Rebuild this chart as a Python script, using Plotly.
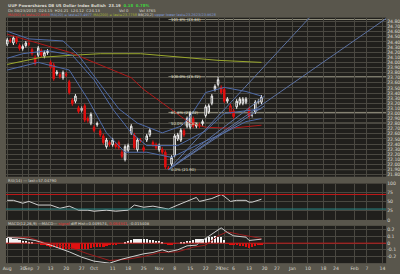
import numpy as np
import pandas as pd
import plotly.graph_objects as go
from plotly.subplots import make_subplots

# ---------------- data ----------------
holidays = ["2010-09-06", "2010-11-25", "2010-12-24", "2011-01-17"]
all_days = pd.bdate_range("2010-08-23", "2011-02-25")
trade_days = [d for d in all_days if d.strftime("%Y-%m-%d") not in holidays]
day_index = {d.strftime("%Y-%m-%d"): i for i, d in enumerate(trade_days)}

opens = [24.36, 24.44, 24.38, 24.47, 24.33, 24.27, 24.33, 24.37, 24.25, 24.10,
         24.14, 24.23, 24.12, 24.19, 24.00, 23.95, 23.78, 23.76, 23.70, 23.77,
         23.62, 23.26, 23.24, 23.11, 23.10, 23.15, 22.90, 22.81, 22.73, 22.78,
         22.66, 22.56, 22.35, 22.43, 22.39, 22.39, 22.43, 22.24, 22.10, 22.28,
         22.62, 22.58, 22.29, 22.48, 22.33, 22.48, 22.58, 22.43, 22.39, 22.29,
         22.30, 22.24, 21.93, 22.01, 22.18, 22.50, 22.48, 22.66, 22.75, 22.73,
         22.90, 22.75, 22.78, 22.80, 22.96, 23.03, 23.20, 23.47, 23.57, 23.51,
         23.47, 23.24, 23.03, 23.05, 23.13, 23.20, 23.20, 23.22, 23.09, 22.96,
         23.03, 23.24, 23.22]
closes = [24.44, 24.42, 24.48, 24.40, 24.27, 24.31, 24.38, 24.36, 24.17, 23.98,
          24.28, 24.14, 24.19, 24.22, 23.91, 23.68, 23.81, 23.72, 23.80, 23.75,
          23.41, 23.19, 23.34, 23.04, 23.06, 22.87, 22.86, 22.98, 22.67, 22.80,
          22.58, 22.43, 22.48, 22.39, 22.48, 22.35, 22.33, 22.16, 22.35, 22.37,
          22.75, 22.33, 22.48, 22.47, 22.28, 22.56, 22.67, 22.39, 22.33, 22.37,
          22.24, 21.95, 21.92, 22.14, 22.56, 22.58, 22.67, 22.58, 22.90, 23.00,
          22.75, 22.78, 22.75, 22.84, 23.13, 23.15, 23.34, 23.53, 23.66, 23.41,
          23.24, 23.28, 23.15, 22.94, 23.24, 23.28, 23.28, 23.28, 22.94, 22.96,
          23.22, 23.22, 23.32]
wick = 0.04
highs = [max(o, c) + wick for o, c in zip(opens, closes)]
lows = [min(o, c) - wick for o, c in zip(opens, closes)]
highs[68] = 23.72
lows[52] = 21.90

# moving averages / bands (vertices: day index, price)
ma50_x = [0, 20, 40, 44, 54, 59, 64, 72, 82]
ma50_y = [24.55, 24.20, 23.70, 23.47, 23.03, 22.81, 22.73, 22.71, 22.77]
ma200_x = [0, 11, 21, 30, 43, 55, 68, 82]
ma200_y = [23.96, 24.10, 24.14, 24.17, 24.17, 24.11, 24.04, 24.00]
bbu_x = [0, 7, 18, 23, 30, 36, 42, 50, 56, 59, 64, 70, 77, 82]
bbu_y = [24.61, 24.46, 24.42, 24.14, 23.57, 23.09, 22.81, 22.62, 22.75, 22.94, 23.41, 23.51, 23.43, 23.34]
ma20_x = [0, 5, 13, 21, 28, 34, 40, 45, 55, 64, 70, 82]
ma20_y = [24.08, 24.17, 24.23, 24.14, 23.66, 23.09, 22.62, 22.37, 22.37, 22.66, 23.00, 23.09]
bbl_x = [0, 10, 20, 26, 32, 38, 45, 53, 64, 70, 77, 82]
bbl_y = [23.85, 24.00, 23.85, 23.28, 22.62, 22.24, 22.24, 22.14, 22.46, 22.62, 22.84, 22.90]

# fan lines from the November low (day index, price) -> end points
fan_start = (52, 21.90)
fan_end_x = [97.7, 122.2, 83.0, 83.0]
fan_end_y = [24.89, 24.86, 23.34, 23.15]

# Fibonacci levels
fib_pct = ["161.8%", "100.0%", "61.8%", "50.0%", "0.0%"]
fib_val = [24.84, 23.72, 23.02, 22.81, 21.90]

# RSI(14)
rsi_x = [0, 2, 5, 7, 10, 14, 17, 20, 23, 26, 28, 32, 35, 39, 41, 44, 47, 50, 52, 55,
         58, 61, 62, 64, 66, 69, 70, 72, 74, 77, 78, 79, 81, 82]
rsi_y = [54, 54, 46, 51, 41, 41, 32, 38, 27, 27, 24, 27, 24, 27, 41, 35, 38, 32, 30, 41,
         51, 62, 51, 54, 59, 70, 65, 51, 54, 54, 49, 49, 54, 57]

# MACD
macd_x = [0, 5, 9, 14, 20, 24, 28, 33, 37, 41, 44, 47, 50, 52, 55, 58, 61, 62, 65, 68,
          69, 71, 73, 77, 78, 82]
macd_y = [0.086, 0.07, 0.04, -0.03, -0.13, -0.21, -0.27, -0.30, -0.24, -0.19, -0.16, -0.14,
          -0.10, -0.13, -0.10, -0.04, -0.03, 0.01, 0.11, 0.20, 0.23, 0.16, 0.11, 0.09, 0.04, 0.06]
sig_x = [0, 7, 12, 20, 26, 33, 39, 44, 49, 55, 60, 64, 68, 71, 75, 80, 82]
sig_y = [0.086, 0.086, 0.01, -0.06, -0.16, -0.26, -0.24, -0.20, -0.14, -0.13, -0.06, -0.03,
         0.11, 0.17, 0.13, 0.09, 0.07]
hist = [0.08, 0.08, 0.07, 0.06, 0.05, 0.04, 0.03, 0.02, 0.01, 0.0,
        -0.01, -0.02, -0.03, -0.04, -0.05, -0.06, -0.07, -0.07, -0.08, -0.08,
        -0.09, -0.09, -0.09, -0.08, -0.09, -0.08, -0.08, -0.07, -0.06, -0.06,
        -0.05, -0.05, -0.04, -0.03, -0.03, -0.02, -0.01, 0.0,
        0.02, 0.03, 0.05, 0.06, 0.07, 0.07, 0.06, 0.06, 0.05, 0.05, 0.04, 0.03, 0.02,
        -0.01, -0.02, -0.02, -0.01, 0.0,
        0.01, 0.02, 0.03, 0.04, 0.05, 0.06, 0.06, 0.07, 0.08, 0.09, 0.10, 0.11, 0.10, 0.09, 0.05,
        -0.01, -0.02, -0.03, -0.03, -0.04, -0.04, -0.05, -0.07, -0.05, -0.04, -0.03, -0.02]

tick_dates = ["2010-08-23", "2010-08-30", "2010-09-01", "2010-09-07", "2010-09-13", "2010-09-20",
              "2010-09-27", "2010-10-01", "2010-10-11", "2010-10-18", "2010-10-25", "2010-11-01",
              "2010-11-08", "2010-11-15", "2010-11-22", "2010-11-29", "2010-12-01", "2010-12-06",
              "2010-12-13", "2010-12-20", "2010-12-27", "2011-01-03", "2011-01-10", "2011-01-18",
              "2011-01-24", "2011-02-01", "2011-02-07", "2011-02-14"]
tick_text = ["Aug", "30", "Sep", "7", "13", "20", "27", "Oct", "11", "18", "25", "Nov", "8", "15",
             "22", "29", "Dec", "6", "13", "20", "27", "Jan", "10", "18", "24", "Feb", "7", "14"]
price_ticks = [round(21.8 + 0.1 * k, 2) for k in range(31)]

# ---------------- style ----------------
W, H = 400, 274
PAPER = "#59564c"
PLOT = "#201f1c"
GRID = "#4a4841"
TXT = "#d9d8cf"
FIBC = "#8f8d7c"
BLUE = "#4f6ba8"
RED = "#e01010"
FONT = "DejaVu Sans"

def py(p):  # pixel row -> paper fraction
    return 1 - p / H

fig = make_subplots(rows=3, cols=1, shared_xaxes=True)
xr = [-0.4, 122.2]
tickvals = [day_index[d] for d in tick_dates]

# candles: colour by change vs previous close, hollow when close > open
n = len(closes)
prev = [closes[0] - 0.01] + closes[:-1]
up_idx = [i for i in range(n) if closes[i] >= prev[i]]
dn_idx = [i for i in range(n) if closes[i] < prev[i]]

def cs(idx, inc_line, inc_fill, dec_line, dec_fill):
    return go.Candlestick(
        x=idx, open=[opens[i] for i in idx], high=[highs[i] for i in idx],
        low=[lows[i] for i in idx], close=[closes[i] for i in idx],
        increasing=dict(line=dict(color=inc_line, width=1), fillcolor=inc_fill),
        decreasing=dict(line=dict(color=dec_line, width=1), fillcolor=dec_fill),
        whiskerwidth=0, showlegend=False, hoverinfo="skip")

fig.add_trace(go.Scatter(x=ma200_x, y=ma200_y, mode="lines", line=dict(color="#9aa82c", width=1),
                         showlegend=False), row=1, col=1)
fig.add_trace(go.Scatter(x=ma50_x, y=ma50_y, mode="lines", line=dict(color="#b01818", width=1),
                         showlegend=False), row=1, col=1)
for xs, ys in [(bbu_x, bbu_y), (ma20_x, ma20_y), (bbl_x, bbl_y)]:
    fig.add_trace(go.Scatter(x=xs, y=ys, mode="lines", line=dict(color=BLUE, width=1),
                             showlegend=False), row=1, col=1)
for ex, ey in zip(fan_end_x, fan_end_y):
    fig.add_trace(go.Scatter(x=[fan_start[0], ex], y=[fan_start[1], ey], mode="lines",
                             line=dict(color="#5d73a3", width=1), showlegend=False), row=1, col=1)
fig.add_trace(cs(up_idx, "#f0f0f0", PLOT, "#bdbdbd", "#bdbdbd"), row=1, col=1)
fig.add_trace(cs(dn_idx, RED, PLOT, RED, RED), row=1, col=1)

# RSI
fig.add_trace(go.Scatter(x=rsi_x, y=rsi_y, mode="lines", line=dict(color="#d0d0d0", width=1),
                         showlegend=False), row=2, col=1)
# MACD
fig.add_trace(go.Bar(x=list(range(len(hist))), y=hist, width=0.75,
                     marker=dict(color=["#f2f2f2" if v >= 0 else RED for v in hist], line_width=0),
                     showlegend=False), row=3, col=1)
fig.add_trace(go.Scatter(x=sig_x, y=sig_y, mode="lines", line=dict(color="#9a1c1c", width=1),
                         showlegend=False), row=3, col=1)
fig.add_trace(go.Scatter(x=macd_x, y=macd_y, mode="lines", line=dict(color="#cfcfcf", width=1),
                         showlegend=False), row=3, col=1)

shapes = []
for v in fib_val:
    shapes.append(dict(type="line", xref="x", yref="y", x0=fan_start[0], x1=xr[1], y0=v, y1=v,
                       line=dict(color=FIBC, width=1), layer="below"))
shapes.append(dict(type="line", xref="x2 domain", yref="y2", x0=0, x1=1, y0=70, y1=70,
                   line=dict(color="#c01818", width=1)))
shapes.append(dict(type="line", xref="x2 domain", yref="y2", x0=0, x1=1, y0=30, y1=30,
                   line=dict(color="#2a8a8a", width=1)))
shapes.append(dict(type="line", xref="x3 domain", yref="y3", x0=0, x1=1, y0=0, y1=0,
                   line=dict(color="#c01818", width=1)))

xcommon = dict(range=xr, tickvals=tickvals, ticktext=tick_text, showgrid=True, gridcolor=GRID,
               gridwidth=1, zeroline=False, showline=False, ticks="", domain=[3 / W, 387 / W],
               tickangle=0, rangeslider=dict(visible=False), autorange=False)
fig.update_xaxes(**xcommon)
fig.update_xaxes(showticklabels=False, row=1, col=1)
fig.update_xaxes(showticklabels=False, row=2, col=1)
fig.update_xaxes(showticklabels=True, tickfont=dict(size=4.6, color=TXT, family=FONT),
                 ticklabelstandoff=1, ticklabeloverflow="allow", row=3, col=1)

yfont = dict(size=4.6, color=TXT, family=FONT)
fig.update_layout(
    yaxis=dict(domain=[py(178), py(16)], range=[21.76, 24.875], side="right", tickvals=price_ticks,
               ticktext=["%.2f" % v for v in price_ticks], tickfont=yfont, gridcolor=GRID,
               zeroline=False, ticks="", showline=False),
    yaxis2=dict(domain=[py(222), py(185)], range=[0, 100], side="right", tickvals=[0, 25, 50, 75, 100],
                tickfont=yfont, gridcolor=GRID, zeroline=False, ticks=""),
    yaxis3=dict(domain=[py(266), py(228)], range=[-0.30, 0.26], side="right",
                tickvals=[-0.2, -0.1, 0, 0.1, 0.2], ticktext=["-0.2", "-0.1", "0", "0.1", "0.2"],
                tickfont=yfont, gridcolor=GRID, zeroline=False, ticks=""),
)

ann = []
def txt(x, y, s, size=4.0, color=TXT, bold=False):
    ann.append(dict(x=x / W, y=py(y), xref="paper", yref="paper", text=("<b>%s</b>" % s) if bold else s,
                    showarrow=False, xanchor="left", yanchor="middle",
                    font=dict(size=size, color=color, family=FONT)))

txt(3, 4, "UUP Powershares DB US Dollar Index Bullish  23.19  "
          "<span style='color:#3fd43f'>0.18  0.78%</span>", size=3.9, bold=True)
txt(3, 9, "Dc 08/23/2010  O24.15  H24.21  L24.12  C24.13", size=3.8)
txt(115, 9, "Vol 0", size=3.8)
txt(135, 9, "Vol 3765", size=3.8)
txt(3, 13.5, "<span style='color:#e03030'>MA(50) = last=22.9955</span> "
             "<span style='color:#7f9ad8'>MA(20) = last=23.4977</span> "
             "<span style='color:#a8b838'>MA(200) = last=23.7758</span> "
             "BB(20,2) <span style='color:#7f9ad8'>upper lower last=23.2623/23.9628</span>", size=3.5)
txt(3, 181.5, "RSI(14) ― last=57.04790", size=3.8)
txt(3, 225.5, "MACD(12,26,9) ―MACD― <span style='color:#e03030'>signal</span> diff Hist=0.049574, "
              "<span style='color:#e03030'>0.064341</span>, -0.015408", size=3.8)

for p, v in zip(fib_pct, fib_val):
    ann.append(dict(x=fan_start[0] + 0.3, y=v, xref="x", yref="y", text="%s (%.2f)" % (p, v),
                    showarrow=False, xanchor="left", yanchor="middle",
                    font=dict(size=3.8, color="#e6e5d6", family=FONT)))

fig.update_layout(
    width=W, height=H, margin=dict(l=0, r=0, t=0, b=0), paper_bgcolor=PAPER, plot_bgcolor=PLOT,
    showlegend=False, shapes=shapes, annotations=ann, bargap=0, barmode="overlay",
)
fig.write_html("out.html")
